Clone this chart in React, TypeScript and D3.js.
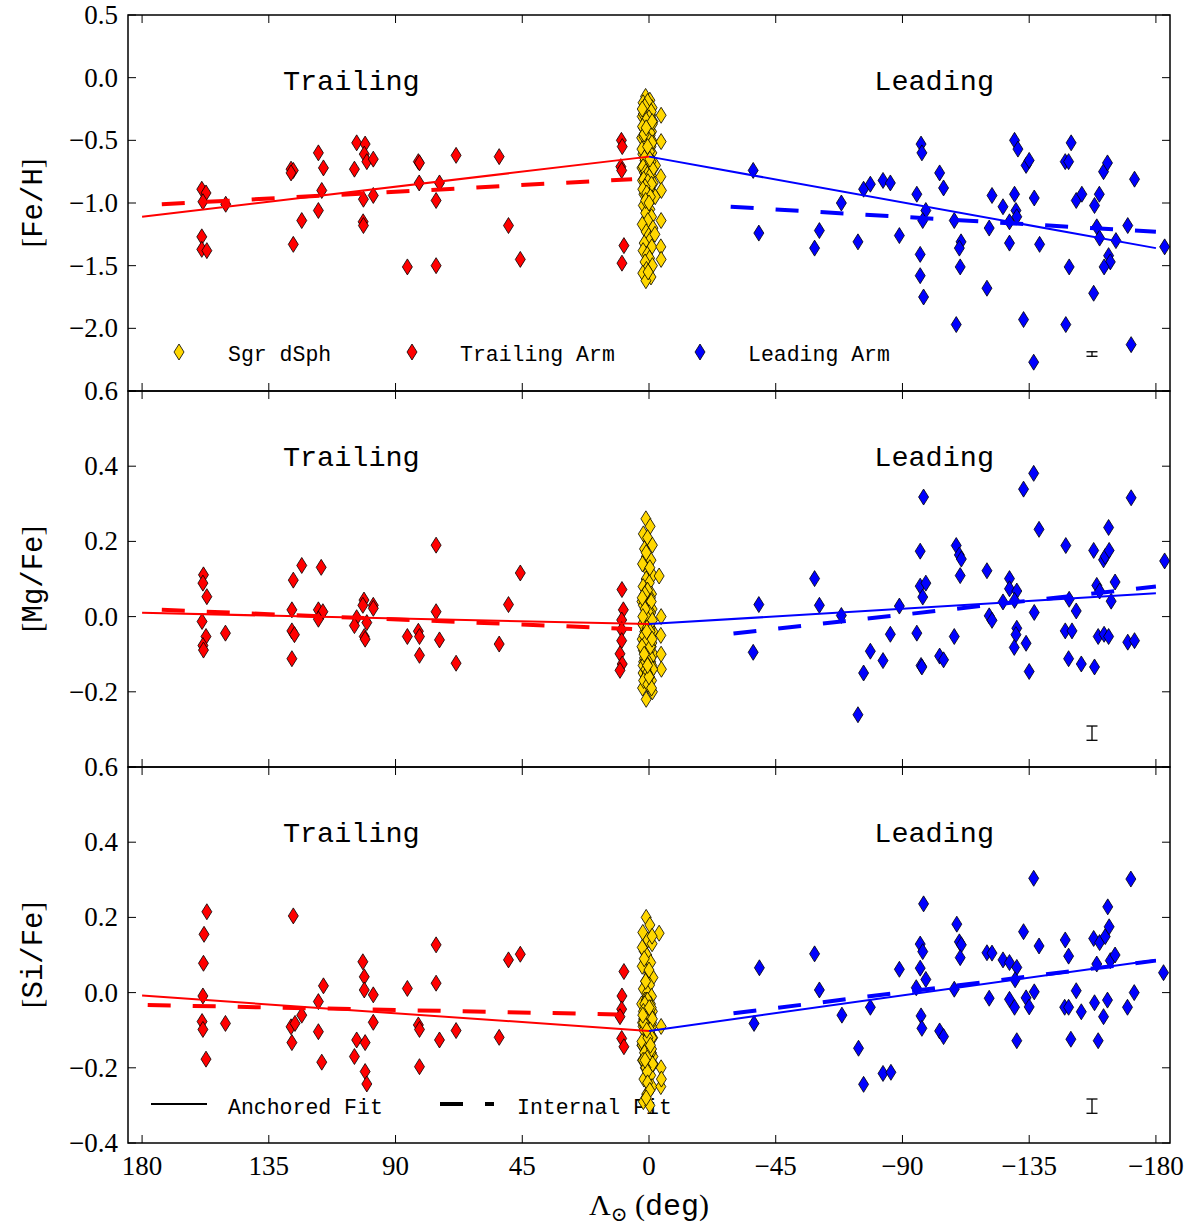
import React from 'react';
import * as d3 from 'd3';

// ---------------- Data ----------------
const LAMBDA_TICKS = [180, 135, 90, 45, 0, -45, -90, -135, -180];

// Panel 1: [Fe/H]
const trailFeH_lam = [158.8, 157.3, 158.4, 158.8, 158.8, 157.0, 150.3, 127.1, 126.3, 127.1, 126.3, 123.3, 117.4, 115.6, 116.2, 117.4, 103.8, 104.6, 100.8, 101.1, 100.2, 97.9, 101.4, 97.9, 101.5, 101.4, 85.8, 81.9, 81.5, 81.6, 75.6, 74.4, 75.6, 68.5, 53.2, 49.9, 45.7, 9.8, 9.5, 10.0, 9.7, 8.9, 9.6];
const trailFeH_val = [-0.89, -0.92, -0.99, -1.27, -1.37, -1.38, -1.01, -0.73, -0.74, -0.76, -1.33, -1.14, -0.6, -0.72, -0.9, -1.06, -0.52, -0.73, -0.53, -0.61, -0.67, -0.65, -0.97, -0.94, -1.15, -1.18, -1.51, -0.67, -0.68, -0.84, -0.98, -0.84, -1.5, -0.62, -0.63, -1.18, -1.45, -0.5, -0.55, -0.71, -0.74, -1.34, -1.48];
const leadFeH_lam = [-37.0, -39.0, -58.8, -60.5, -68.3, -74.2, -76.2, -78.6, -83.1, -85.7, -88.9, -95.1, -96.6, -96.9, -98.3, -97.2, -96.3, -96.3, -97.5, -103.2, -104.6, -108.4, -110.8, -110.2, -110.5, -109.1, -120.0, -121.8, -120.8, -125.7, -128.0, -128.0, -129.8, -131.0, -129.8, -130.3, -130.6, -133.9, -135.0, -136.8, -138.7, -133.0, -136.6, -147.8, -149.0, -149.9, -149.2, -148.0, -151.7, -153.7, -158.2, -159.9, -159.0, -160.0, -157.9, -161.4, -162.8, -165.8, -163.2, -163.8, -161.6, -170.0, -172.4, -171.2, -183.1];
const leadFeH_val = [-0.74, -1.24, -1.36, -1.22, -1.0, -1.31, -0.89, -0.85, -0.82, -0.84, -1.26, -0.93, -0.53, -0.6, -1.06, -1.14, -1.41, -1.58, -1.75, -0.76, -0.88, -1.14, -1.31, -1.36, -1.51, -1.97, -1.68, -0.94, -1.2, -1.03, -1.15, -1.32, -0.5, -0.57, -0.93, -1.06, -1.11, -0.7, -0.66, -0.96, -1.33, -1.93, -2.27, -0.67, -0.67, -0.52, -1.51, -1.97, -0.98, -0.93, -1.02, -0.93, -1.19, -1.28, -1.72, -0.75, -0.68, -1.3, -1.42, -1.47, -1.51, -1.18, -0.81, -2.13, -1.35];
const sgrFeH_lam = [1.2, -0.3, 2.1, 0.4, -1.1, 1.7, 0.8, -0.6, 2.4, 0.1, -1.4, 1.0, -0.2, 2.0, 0.6, -0.9, 1.5, -0.4, 2.6, 0.3, -1.2, 1.1, -0.7, 1.9, 0.0, -1.0, 2.2, 0.7, -0.5, 1.4, -1.3, 0.9, 2.5, -0.1, 1.6, -0.8, 0.5, 2.3, -1.5, 1.3, 0.2, -0.6, 1.8, -1.1, 0.8, 2.0, -0.3, 1.2, -0.9, 0.4, 2.4, -1.4, 1.0, 0.1, -0.5, 1.7, -1.0, 2.1, 0.6, -0.2, 1.4, -1.2, 0.9, 2.2, -0.7, 1.1, 0.3, -4.3, -4.3, -4.2, -4.4, -4.3, -4.2, -4.3, -2.2, -2.1, -2.3,
  0.5, 1.5, -0.8, 2.0, 0.0, 1.0, -1.2, 2.3, 0.7, -0.4, 1.8, 0.2, -1.0, 1.3, 2.5, -0.2, 0.9, 1.6, -0.7, 0.3, 2.1, -1.3, 1.1, 0.6, -0.1, 1.9, 0.4, -0.9, 1.4, 2.2, 0.8, -0.5, 1.2, 0.0, 2.4, -1.1, 1.7, 0.5, -0.3, 1.0];
const sgrFeH_val = [-0.15, -0.18, -0.2, -0.22, -0.24, -0.26, -0.28, -0.3, -0.31, -0.33, -0.35, -0.36, -0.38, -0.4, -0.41, -0.43, -0.45, -0.46, -0.48, -0.5, -0.51, -0.53, -0.55, -0.56, -0.58, -0.6, -0.61, -0.63, -0.65, -0.66, -0.68, -0.7, -0.72, -0.74, -0.76, -0.78, -0.8, -0.82, -0.84, -0.86, -0.88, -0.9, -0.93, -0.96, -0.99, -1.02, -1.05, -1.08, -1.11, -1.14, -1.17, -1.2, -1.23, -1.26, -1.29, -1.32, -1.35, -1.38, -1.41, -1.44, -1.47, -1.5, -1.53, -1.56, -1.59, -1.62, -1.55, -0.3, -0.51, -0.79, -0.9, -1.14, -1.35, -1.45, -0.95, -1.25, -0.7,
  -0.19, -0.23, -0.27, -0.29, -0.32, -0.34, -0.37, -0.39, -0.42, -0.44, -0.47, -0.49, -0.52, -0.54, -0.57, -0.59, -0.62, -0.64, -0.67, -0.69, -0.71, -0.73, -0.75, -0.77, -0.79, -0.81, -0.83, -0.85, -0.87, -0.89, -0.92, -0.95, -0.98, -1.0, -0.25, -0.35, -0.45, -0.55, -0.65, -0.4];

// Panel 2: [Mg/Fe]
const trailMgFe_lam = [158.2, 158.4, 157.0, 158.7, 157.3, 158.4, 158.2, 150.4, 126.3, 123.3, 126.8, 126.8, 125.9, 126.8, 116.4, 117.4, 115.8, 117.4, 101.2, 101.6, 97.9, 97.9, 103.8, 104.6, 100.2, 101.1, 100.8, 85.8, 81.9, 81.5, 81.5, 75.6, 75.6, 74.4, 68.5, 53.2, 49.9, 45.7, 9.6, 9.1, 9.7, 9.7, 9.7, 10.3, 9.5, 10.3];
const trailMgFe_val = [0.111, 0.089, 0.053, -0.013, -0.053, -0.077, -0.089, -0.044, 0.097, 0.136, 0.018, -0.038, -0.048, -0.112, 0.131, 0.018, 0.013, -0.007, 0.044, 0.03, 0.03, 0.022, -0.003, -0.024, -0.016, -0.053, -0.06, -0.053, -0.039, -0.053, -0.103, 0.19, 0.013, -0.062, -0.124, -0.073, 0.032, 0.116, 0.072, 0.018, -0.009, -0.035, -0.064, -0.099, -0.126, -0.143];
const leadMgFe_lam = [-39.0, -37.0, -58.8, -60.5, -68.3, -74.2, -76.2, -78.6, -83.1, -85.7, -88.9, -95.1, -96.3, -97.5, -96.3, -98.3, -97.2, -96.6, -96.9, -103.2, -104.6, -108.4, -109.1, -110.2, -110.9, -110.5, -120.0, -120.8, -121.8, -125.7, -128.0, -128.0, -130.6, -129.8, -130.6, -130.3, -129.7, -133.0, -136.6, -136.8, -138.5, -133.9, -135.0, -148.0, -149.2, -151.7, -147.8, -150.2, -149.0, -153.5, -158.2, -157.9, -159.0, -160.0, -159.5, -161.4, -162.0, -163.4, -163.2, -165.5, -164.1, -161.6, -163.2, -171.2, -170.0, -172.4, -183.1];
const leadMgFe_val = [0.032, -0.095, 0.101, 0.03, 0.003, -0.261, -0.15, -0.092, -0.117, -0.047, 0.028, -0.044, 0.174, 0.318, 0.081, 0.089, 0.052, -0.13, -0.134, -0.105, -0.115, -0.053, 0.189, 0.164, 0.153, 0.109, 0.122, 0.002, -0.01, 0.039, 0.101, 0.074, 0.068, 0.043, -0.031, -0.048, -0.082, 0.339, 0.381, 0.011, 0.232, -0.071, -0.146, 0.189, 0.046, 0.015, -0.038, -0.038, -0.112, -0.126, -0.134, 0.176, 0.083, 0.068, -0.053, 0.151, 0.16, 0.176, 0.237, 0.092, 0.041, -0.047, -0.053, 0.316, -0.068, -0.064, 0.148];
const sgrMgFe_lam = [1.1, -0.4, 2.0, 0.5, -1.2, 1.6, 0.9, -0.7, 2.3, 0.2, -1.3, 1.0, -0.1, 2.1, 0.7, -0.9, 1.4, -0.5, 2.5, 0.3, -1.1, 1.2, -0.6, 1.8, 0.0, -1.0, 2.2, 0.6, -0.3, 1.5, -1.4, 0.8, 2.4, -0.2, 1.7, -0.8, 0.4, 2.0, -1.5, 1.3, 0.1, -0.6, 1.9, -1.0, 0.7, 2.1, -0.3, 1.1, -0.9, 0.5, 2.3, -1.2, 1.0, 0.2, -0.4, 1.6, -3.6, -4.3, -4.2, -4.3, -4.4,
  0.5, 1.5, -0.8, 2.0, 0.0, 1.0, -1.2, 2.3, 0.7, -0.4, 1.8, 0.2, -1.0, 1.3, 2.5, -0.2, 0.9, 1.6, -0.7, 0.3, 2.1, -1.3, 1.1, 0.6, -0.1, 1.9, 0.4, -0.9, 1.4, 2.2, 0.8, -0.5, 1.2, 0.0, 2.4, -1.1, 1.7, 0.5, -0.3, 1.0];
const sgrMgFe_val = [0.26, 0.24, 0.22, 0.21, 0.19, 0.18, 0.16, 0.15, 0.14, 0.12, 0.11, 0.1, 0.09, 0.08, 0.07, 0.06, 0.05, 0.05, 0.04, 0.03, 0.02, 0.02, 0.01, 0.0, 0.0, -0.01, -0.02, -0.02, -0.03, -0.04, -0.04, -0.05, -0.06, -0.06, -0.07, -0.08, -0.08, -0.09, -0.1, -0.1, -0.11, -0.12, -0.12, -0.13, -0.14, -0.15, -0.15, -0.16, -0.17, -0.18, -0.19, -0.2, -0.22, -0.01, -0.03, -0.05, 0.108, 0.0, -0.05, -0.1, -0.14,
  0.07, 0.06, 0.04, 0.03, 0.01, 0.0, -0.01, -0.02, -0.03, -0.04, -0.05, -0.06, -0.07, -0.07, -0.08, -0.09, -0.1, -0.11, -0.11, -0.12, -0.13, -0.14, -0.14, -0.15, -0.16, -0.17, -0.18, -0.19, 0.02, 0.0, -0.04, -0.08, -0.12, -0.16, 0.05, -0.06, -0.1, -0.13, 0.13, 0.17];

// Panel 3: [Si/Fe]
const trailSiFe_lam = [157.0, 158.0, 158.2, 158.4, 158.7, 158.4, 157.3, 150.4, 126.3, 127.1, 125.7, 126.8, 123.3, 115.6, 117.4, 117.4, 116.2, 101.6, 101.1, 101.1, 97.9, 97.9, 103.8, 100.8, 104.6, 100.8, 100.2, 85.8, 81.9, 81.5, 81.5, 75.6, 75.6, 74.4, 68.5, 53.2, 49.9, 45.7, 8.9, 9.6, 9.7, 10.3, 9.7, 8.9];
const trailSiFe_val = [0.215, 0.155, 0.078, -0.009, -0.077, -0.098, -0.177, -0.082, 0.204, -0.091, -0.082, -0.133, -0.06, 0.018, -0.024, -0.104, -0.185, 0.082, 0.042, 0.007, -0.006, -0.079, -0.126, -0.133, -0.17, -0.21, -0.243, 0.011, -0.086, -0.098, -0.197, 0.127, 0.025, -0.126, -0.101, -0.119, 0.087, 0.102, 0.056, -0.009, -0.044, -0.064, -0.122, -0.144];
const leadSiFe_lam = [-39.2, -37.3, -58.8, -60.5, -68.5, -74.4, -76.2, -78.6, -83.1, -85.9, -88.9, -94.9, -96.3, -97.2, -96.3, -98.3, -97.5, -96.6, -96.9, -103.2, -104.6, -108.4, -109.3, -110.2, -110.9, -110.5, -120.0, -121.8, -120.8, -125.7, -128.0, -130.6, -130.0, -128.0, -129.8, -130.6, -133.0, -136.6, -138.5, -133.9, -135.0, -136.8, -147.8, -149.0, -151.7, -147.6, -149.0, -153.5, -149.8, -157.9, -160.0, -159.0, -158.2, -159.5, -161.4, -162.8, -162.0, -163.4, -162.9, -163.8, -165.5, -171.1, -169.9, -172.3, -182.7];
const leadSiFe_val = [0.066, -0.082, 0.103, 0.007, -0.06, -0.148, -0.244, -0.039, -0.215, -0.212, 0.062, 0.013, 0.129, 0.109, 0.065, 0.035, 0.236, -0.062, -0.095, -0.102, -0.117, 0.009, 0.182, 0.135, 0.127, 0.093, 0.106, 0.105, -0.015, 0.087, 0.08, 0.067, 0.034, -0.018, -0.039, -0.128, 0.162, 0.304, 0.124, -0.014, -0.038, 0.002, 0.14, 0.097, 0.005, -0.039, -0.039, -0.051, -0.124, 0.144, 0.133, 0.076, -0.027, -0.128, -0.064, -0.02, 0.149, 0.175, 0.228, 0.085, 0.1, 0.302, -0.039, 0.0, 0.053];
const sgrSiFe_lam = [1.0, -0.3, 2.2, 0.4, -1.1, 1.7, 0.8, -0.6, 2.4, 0.1, -1.4, 1.2, -0.2, 2.0, 0.6, -0.9, 1.5, -0.5, 2.6, 0.3, -1.2, 1.1, -0.7, 1.9, 0.0, -1.0, 2.1, 0.7, -0.4, 1.4, -1.3, 0.9, 2.5, -0.1, 1.6, -0.8, 0.5, 2.3, -1.5, 1.3, 0.2, -0.6, 1.8, -1.1, 0.8, 2.0, -0.3, 1.2, -0.9, 0.4, 2.4, -1.4, 1.0, 0.1, -3.6, -4.3, -4.3, -4.2, -4.4,
  0.5, 1.5, -0.8, 2.0, 0.0, 1.0, -1.2, 2.3, 0.7, -0.4, 1.8, 0.2, -1.0, 1.3, 2.5, -0.2, 0.9, 1.6, -0.7, 0.3, 2.1, -1.3, 1.1, 0.6, -0.1, 1.9, 0.4, -0.9, 1.4, 2.2, 0.8, -0.5, 1.2, 0.0, 2.4, -1.1, 1.7, 0.5, -0.3, 1.0];
const sgrSiFe_val = [0.2, 0.18, 0.16, 0.14, 0.13, 0.11, 0.1, 0.08, 0.07, 0.05, 0.04, 0.03, 0.02, 0.01, 0.0, -0.01, -0.02, -0.03, -0.03, -0.04, -0.05, -0.06, -0.06, -0.07, -0.08, -0.09, -0.09, -0.1, -0.11, -0.12, -0.12, -0.13, -0.14, -0.15, -0.15, -0.16, -0.17, -0.18, -0.19, -0.2, -0.21, -0.22, -0.23, -0.25, -0.27, -0.29, -0.3, -0.05, -0.08, -0.11, -0.14, -0.17, -0.02, -0.1, 0.158, -0.09, -0.2, -0.25, -0.23,
  -0.02, -0.03, -0.04, -0.05, -0.06, -0.07, -0.07, -0.08, -0.09, -0.1, -0.1, -0.11, -0.12, -0.13, -0.13, -0.14, -0.15, -0.16, -0.16, -0.17, -0.18, -0.19, -0.2, -0.21, -0.04, -0.08, -0.12, -0.15, -0.18, -0.06, -0.1, -0.14, 0.03, 0.06, 0.12, 0.15, 0.09, -0.24, -0.26, -0.28];

// Fits: [lambda0, value0, lambda1, value1]
const feh_anchoredTrail = [180, -1.11, 0, -0.63];
const feh_anchoredLead = [0, -0.63, -180, -1.36];
const feh_internalTrail = [173, -1.01, 6, -0.81];
const feh_internalLead = [-29, -1.03, -180, -1.23];
const mgfe_anchoredTrail = [180, 0.01, 0, -0.02];
const mgfe_anchoredLead = [0, -0.02, -180, 0.062];
const mgfe_internalTrail = [173, 0.018, 6, -0.033];
const mgfe_internalLead = [-30, -0.045, -180, 0.08];
const sife_anchoredTrail = [180, -0.008, 0, -0.102];
const sife_anchoredLead = [0, -0.102, -180, 0.087];
const sife_internalTrail = [178, -0.033, 11, -0.058];
const sife_internalLead = [-30, -0.055, -180, 0.085];

// Typical error bars: [lambda, value, halfError]
const feh_err = [-157.3, -2.205, 0.018];
const mgfe_err = [-157.3, -0.31, 0.019];
const sife_err = [-157.3, -0.302, 0.019];

const feh_ticks = [0.5, 0.0, -0.5, -1.0, -1.5, -2.0, -2.5];
const feh_tickLabels = [true, true, true, true, true, true, false];
const ratio_ticks = [0.6, 0.4, 0.2, 0.0, -0.2, -0.4];
const mg_tickLabels = [true, true, true, true, true, false];
const si_tickLabels = [true, true, true, true, true, true];

// ---------------- Layout ----------------
const X_LEFT = 128;
const X_RIGHT = 1170;
const PANEL_H = 376;
const PANEL_TOPS = [15, 391, 767];
const SERIF = "'Liberation Serif', 'DejaVu Serif', serif";
const MONO = "'Liberation Mono', 'DejaVu Sans Mono', monospace";
const TICK_LEN = 8;

const x = d3.scaleLinear().domain([185, -185]).range([X_LEFT, X_RIGHT]);

function diamond(cx: number, cy: number, hw = 5, hh = 8) {
  return `M${cx},${cy - hh}L${cx + hw},${cy}L${cx},${cy + hh}L${cx - hw},${cy}Z`;
}

type Panel = {
  label: string;
  domain: [number, number];
  ticks: number[];
  tickShow: boolean[];
  trailLam: number[]; trailVal: number[];
  leadLam: number[]; leadVal: number[];
  sgrLam: number[]; sgrVal: number[];
  fits: { seg: number[]; color: string; dashed: boolean }[];
  err: number[];
};

const panels: Panel[] = [
  {
    label: 'Fe/H', domain: [-2.5, 0.5], ticks: feh_ticks, tickShow: feh_tickLabels,
    trailLam: trailFeH_lam, trailVal: trailFeH_val, leadLam: leadFeH_lam, leadVal: leadFeH_val,
    sgrLam: sgrFeH_lam, sgrVal: sgrFeH_val,
    fits: [
      { seg: feh_anchoredTrail, color: '#ff0000', dashed: false },
      { seg: feh_anchoredLead, color: '#0000ff', dashed: false },
      { seg: feh_internalTrail, color: '#ff0000', dashed: true },
      { seg: feh_internalLead, color: '#0000ff', dashed: true },
    ],
    err: feh_err,
  },
  {
    label: 'Mg/Fe', domain: [-0.4, 0.6], ticks: ratio_ticks, tickShow: mg_tickLabels,
    trailLam: trailMgFe_lam, trailVal: trailMgFe_val, leadLam: leadMgFe_lam, leadVal: leadMgFe_val,
    sgrLam: sgrMgFe_lam, sgrVal: sgrMgFe_val,
    fits: [
      { seg: mgfe_anchoredTrail, color: '#ff0000', dashed: false },
      { seg: mgfe_anchoredLead, color: '#0000ff', dashed: false },
      { seg: mgfe_internalTrail, color: '#ff0000', dashed: true },
      { seg: mgfe_internalLead, color: '#0000ff', dashed: true },
    ],
    err: mgfe_err,
  },
  {
    label: 'Si/Fe', domain: [-0.4, 0.6], ticks: ratio_ticks, tickShow: si_tickLabels,
    trailLam: trailSiFe_lam, trailVal: trailSiFe_val, leadLam: leadSiFe_lam, leadVal: leadSiFe_val,
    sgrLam: sgrSiFe_lam, sgrVal: sgrSiFe_val,
    fits: [
      { seg: sife_anchoredTrail, color: '#ff0000', dashed: false },
      { seg: sife_anchoredLead, color: '#0000ff', dashed: false },
      { seg: sife_internalTrail, color: '#ff0000', dashed: true },
      { seg: sife_internalLead, color: '#0000ff', dashed: true },
    ],
    err: sife_err,
  },
];

const fmt = d3.format('.1f');

function PanelView({ p, idx }: { p: Panel; idx: number }) {
  const top = PANEL_TOPS[idx];
  const bottom = top + PANEL_H;
  const y = d3.scaleLinear().domain(p.domain).range([bottom, top]);
  const line = d3.line<[number, number]>().x((d) => x(d[0])).y((d) => y(d[1]));
  const isLast = idx === panels.length - 1;

  return (
    <g>
      <text x={x(130)} y={top + 75} style={{ fontFamily: MONO }} fontSize={28.5} fill="#000">Trailing</text>
      <text x={x(-80)} y={top + 75} style={{ fontFamily: MONO }} fontSize={28.5} fill="#000">Leading</text>

      {idx === 0 && (
        <g>
          <path d={diamond(179, 352)} fill="#ffd700" stroke="#000" strokeWidth={0.8} />
          <text x={228} y={361} style={{ fontFamily: MONO }} fontSize={21.5}>Sgr dSph</text>
          <path d={diamond(412, 352)} fill="#ff0000" stroke="#000" strokeWidth={0.8} />
          <text x={460} y={361} style={{ fontFamily: MONO }} fontSize={21.5}>Trailing Arm</text>
          <path d={diamond(700, 352)} fill="#0000ff" stroke="#000" strokeWidth={0.8} />
          <text x={748} y={361} style={{ fontFamily: MONO }} fontSize={21.5}>Leading Arm</text>
        </g>
      )}
      {isLast && (
        <g>
          <line x1={151} x2={207} y1={1104} y2={1104} stroke="#000" strokeWidth={2} />
          <text x={228} y={1114} style={{ fontFamily: MONO }} fontSize={21.5}>Anchored Fit</text>
          <line x1={440} x2={494} y1={1104} y2={1104} stroke="#000" strokeWidth={4} strokeDasharray="23 22" />
          <text x={517} y={1114} style={{ fontFamily: MONO }} fontSize={21.5}>Internal Fit</text>
        </g>
      )}

      {p.trailLam.map((l, i) => (
        <path key={'t' + i} d={diamond(x(l), y(p.trailVal[i]))} fill="#ff0000" stroke="#000" strokeWidth={0.8} />
      ))}
      {p.leadLam.map((l, i) => (
        <path key={'l' + i} d={diamond(x(l), y(p.leadVal[i]))} fill="#0000ff" stroke="#000" strokeWidth={0.8} />
      ))}
      {p.sgrLam.map((l, i) => (
        <path key={'s' + i} d={diamond(x(l), y(p.sgrVal[i]))} fill="#ffd700" stroke="#000" strokeWidth={0.8} />
      ))}

      {p.fits.map((f, i) => (
        <path
          key={'f' + i}
          d={line([[f.seg[0], f.seg[1]], [f.seg[2], f.seg[3]]]) || ''}
          fill="none"
          stroke={f.color}
          strokeWidth={f.dashed ? 4 : 2}
          strokeDasharray={f.dashed ? '23 22' : undefined}
        />
      ))}

      <g stroke="#000" strokeWidth={1.3}>
        <line x1={x(p.err[0])} x2={x(p.err[0])} y1={y(p.err[1] - p.err[2])} y2={y(p.err[1] + p.err[2])} />
        <line x1={x(p.err[0]) - 5.5} x2={x(p.err[0]) + 5.5} y1={y(p.err[1] - p.err[2])} y2={y(p.err[1] - p.err[2])} />
        <line x1={x(p.err[0]) - 5.5} x2={x(p.err[0]) + 5.5} y1={y(p.err[1] + p.err[2])} y2={y(p.err[1] + p.err[2])} />
      </g>

      <g stroke="#000" strokeWidth={1}>
        {LAMBDA_TICKS.map((t) => (
          <g key={'xt' + t}>
            <line x1={x(t)} x2={x(t)} y1={top} y2={top + TICK_LEN} />
            <line x1={x(t)} x2={x(t)} y1={bottom} y2={bottom - TICK_LEN} />
          </g>
        ))}
        {p.ticks.map((t) => (
          <g key={'yt' + t}>
            <line x1={X_LEFT} x2={X_LEFT + TICK_LEN} y1={y(t)} y2={y(t)} />
            <line x1={X_RIGHT} x2={X_RIGHT - TICK_LEN} y1={y(t)} y2={y(t)} />
          </g>
        ))}
      </g>

      {p.ticks.map((t, i) =>
        p.tickShow[i] ? (
          <text key={'yl' + t} x={118} y={y(t) + 9} textAnchor="end" style={{ fontFamily: SERIF }} fontSize={27} fill="#000">
            {fmt(t)}
          </text>
        ) : null
      )}

      <text
        transform={`translate(42, ${(top + bottom) / 2}) rotate(-90)`}
        textAnchor="middle"
        fontSize={29}
        fill="#000"
      >
        <tspan style={{ fontFamily: SERIF }}>[</tspan>
        <tspan style={{ fontFamily: MONO }}>{p.label}</tspan>
        <tspan style={{ fontFamily: SERIF }}>]</tspan>
      </text>

      {isLast &&
        LAMBDA_TICKS.map((t) => (
          <text key={'xl' + t} x={x(t)} y={bottom + 32} textAnchor="middle" style={{ fontFamily: SERIF }} fontSize={27} fill="#000">
            {d3.format('d')(t)}
          </text>
        ))}

      <rect x={X_LEFT} y={top} width={X_RIGHT - X_LEFT} height={PANEL_H} fill="none" stroke="#000" strokeWidth={1.5} />
    </g>
  );
}

export default function App() {
  return (
    <svg
      width={1197}
      height={1226}
      style={{ position: 'absolute', left: 0, top: 0, background: '#fff' }}
      xmlns="http://www.w3.org/2000/svg"
    >
      <rect x={0} y={0} width={1197} height={1226} fill="#fff" />
      {panels.map((p, i) => (
        <PanelView key={i} p={p} idx={i} />
      ))}
      <text x={649} y={1215} textAnchor="middle" fontSize={30} fill="#000">
        <tspan style={{ fontFamily: SERIF }}>Λ</tspan>
        <tspan style={{ fontFamily: SERIF }} fontSize={20} dy={6}>⊙</tspan>
        <tspan style={{ fontFamily: SERIF }} dy={-6}> (</tspan>
        <tspan style={{ fontFamily: MONO }}>deg</tspan>
        <tspan style={{ fontFamily: SERIF }}>)</tspan>
      </text>
    </svg>
  );
}
